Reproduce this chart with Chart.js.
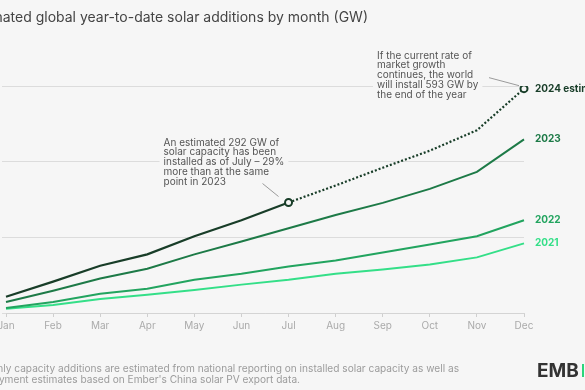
<!DOCTYPE html>
<html>
<head>
<meta charset="utf-8">
<script src="https://cdn.jsdelivr.net/npm/chart.js@4.4.1/dist/chart.umd.min.js"></script>
<style>
  html, body { margin: 0; padding: 0; width: 585px; height: 390px; overflow: hidden; background: #f6f6f6; }
  #wrap { position: absolute; left: -40px; top: 0; width: 680px; height: 390px; }
</style>
</head>
<body>
<div id="wrap"><canvas id="solarChart"></canvas></div>
<script>
const months = ['Jan', 'Feb', 'Mar', 'Apr', 'May', 'Jun', 'Jul', 'Aug', 'Sep', 'Oct', 'Nov', 'Dec'];
const seriesNames = ['2024 estimate', '2023', '2022', '2021'];
const data2024 = [43, 83, 125, 155, 203, 245, 292, 337, 384, 429, 483, 593]; // Aug-Dec projected
const data2023 = [29, 59, 91, 117, 155, 189, 224, 259, 291, 328, 373, 459];
const data2022 = [13, 29, 51, 64, 88, 104, 123, 139, 160, 181, 203, 245];
const data2021 = [11, 21, 37, 48, 61, 75, 88, 104, 115, 128, 147, 184];
const yTicks = [0, 200, 400, 600];

const BG = '#f6f6f6';
const colors = ['#183d28', '#1d7a47', '#22a45f', '#34df88'];
const FONT = 'Inter, "Noto Sans", sans-serif';
const lastActual = 6; // July

const ctx = document.getElementById('solarChart');

// series names at the end of each line
const endLabels = {
    id: 'endLabels',
    afterDatasetsDraw(chart) {
        const c = chart.ctx;
        c.save();
        c.font = 'bold 10px ' + FONT;
        c.textBaseline = 'middle';
        chart.data.datasets.forEach((ds, i) => {
            const pt = chart.getDatasetMeta(i).data[ds.data.length - 1];
            c.fillStyle = ds.borderColor;
            c.fillText(ds.label, pt.x + 11, pt.y);
        });
        c.restore();
    }
};

function note(c, lines, x, y, lh) {
    let w = 0;
    lines.forEach(l => { w = Math.max(w, c.measureText(l).width); });
    c.fillStyle = BG;
    c.fillRect(x - 4, y - lh / 2 - 2, w + 8, lh * lines.length + 4);
    c.fillStyle = '#555';
    lines.forEach((l, i) => c.fillText(l, x, y + i * lh));
}

const annotations = {
    id: 'annotations',
    afterDraw(chart) {
        const c = chart.ctx;
        const xs = chart.scales.x, ys = chart.scales.y;
        const offX = 40;
        c.save();
        // title (cropped on the left like the source)
        c.font = '14px ' + FONT;
        c.fillStyle = '#444';
        c.textAlign = 'right';
        c.textBaseline = 'alphabetic';
        c.fillText('Estimated global year-to-date solar additions by month (GW)', offX + 368, 22);

        // footer
        c.font = '10.15px ' + FONT;
        c.fillStyle = '#9c9c9c';
        c.fillText('Note: Monthly capacity additions are estimated from national reporting on installed solar capacity as well as', offX + 459, 372);
        c.fillText('deployment estimates based on Ember\'s China solar PV export data.', offX + 300, 383);

        // logo
        c.textAlign = 'left';
        c.font = 'bold 19px ' + FONT;
        c.fillStyle = '#333';
        c.fillText('EMB', offX + 537, 377);
        c.fillStyle = '#2bd67b';
        c.fillRect(offX + 582, 364, 2, 13);

        c.font = '10px ' + FONT;
        c.textBaseline = 'middle';

        // July note
        const xJul = xs.getPixelForValue(lastActual), yJul = ys.getPixelForValue(data2024[lastActual]);
        note(c, ['An estimated 292 GW of', 'solar capacity has been', 'installed as of July \u2013 29%',
                 'more than at the same', 'point in 2023'], xJul - 125, yJul - 60, 9.8);
        // year-end note
        const iDec = data2024.length - 1;
        const xDec = xs.getPixelForValue(iDec), yDec = ys.getPixelForValue(data2024[iDec]);
        note(c, ['If the current rate of', 'market growth', 'continues, the world',
                 'will install 593 GW by', 'the end of the year'], xDec - 147, yDec - 33, 9.8);

        c.strokeStyle = '#9a9a9a';
        c.lineWidth = 1;
        c.beginPath();
        c.moveTo(xJul - 26, yJul - 19); c.lineTo(xJul - 10, yJul - 6);
        c.moveTo(xDec - 35, yDec - 11); c.lineTo(xDec - 5, yDec - 3);
        c.stroke();
        c.restore();
    }
};

function lineSet(label, data, color) {
    return {
        label: label,
        data: data,
        borderColor: color,
        backgroundColor: color,
        borderWidth: 2,
        pointRadius: 0,
        tension: 0,
        fill: false
    };
}

const ds2024 = lineSet(seriesNames[0], data2024, colors[0]);
ds2024.borderWidth = 2.2;
ds2024.pointRadius = data2024.map((v, i) => (i === lastActual || i === data2024.length - 1) ? 3.5 : 0);
ds2024.pointBorderWidth = 2;
ds2024.pointBackgroundColor = BG;
ds2024.pointBorderColor = colors[0];
ds2024.segment = {
    borderDash: c => c.p0DataIndex >= lastActual ? [2, 2] : undefined
};

const chart = new Chart(ctx, {
    type: 'line',
    data: {
        labels: months,
        datasets: [
            ds2024,
            lineSet(seriesNames[1], data2023, colors[1]),
            lineSet(seriesNames[2], data2022, colors[2]),
            lineSet(seriesNames[3], data2021, colors[3])
        ]
    },
    options: {
        responsive: true,
        maintainAspectRatio: false,
        animation: false,
        layout: { padding: { left: 42, right: 116, top: 86, bottom: 55 } },
        plugins: {
            legend: { display: false },
            tooltip: { enabled: false }
        },
        scales: {
            x: {
                offset: false,
                grid: { drawOnChartArea: false, drawTicks: true, tickLength: 4, color: '#cfcfcf' },
                border: { color: '#d4d4d4' },
                ticks: { color: '#aaaaaa', padding: 3, font: { family: FONT, size: 10 }, maxRotation: 0, autoSkip: false }
            },
            y: {
                min: yTicks[0],
                max: yTicks[yTicks.length - 1],
                afterBuildTicks: axis => { axis.ticks = yTicks.map(v => ({ value: v })); },
                grid: { color: '#dcdcdc', drawTicks: true, tickLength: 4 },
                border: { display: false },
                ticks: { display: false }
            }
        }
    },
    plugins: [endLabels, annotations]
});
</script>
</body>
</html>
